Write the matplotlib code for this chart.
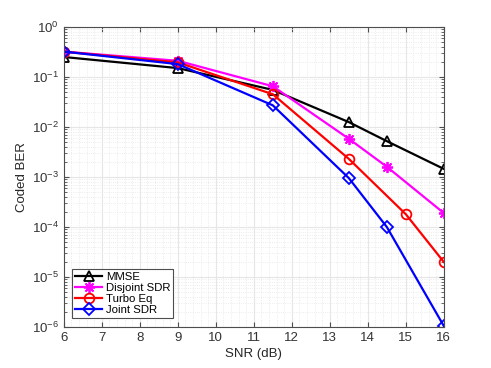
import matplotlib
matplotlib.use('Agg')
import matplotlib.pyplot as plt
import numpy as np

plt.rcParams['font.family'] = ['Liberation Sans', 'DejaVu Sans']

# SNR points and coded BER per scheme
snr_mmse = [6, 9, 11.5, 13.5, 14.5, 16]
ber_mmse = [0.25, 0.15, 0.055, 0.0125, 0.0052, 0.00145]

snr_dsdr = [6, 9, 11.5, 13.5, 14.5, 16]
ber_dsdr = [0.32, 0.21, 0.065, 0.0058, 0.0016, 0.00019]

snr_turbo = [6, 9, 11.5, 13.5, 15, 16]
ber_turbo = [0.32, 0.195, 0.045, 0.0023, 0.00018, 0.00002]

snr_jsdr = [6, 9, 11.5, 13.5, 14.5, 16]
ber_jsdr = [0.32, 0.18, 0.027, 0.00095, 0.0001, 1.05e-6]

fig = plt.figure(figsize=(4.91, 3.68), dpi=100)
ax = fig.add_axes([0.13, 0.111, 0.774, 0.816])

ax.semilogy(snr_mmse, ber_mmse, color='k', marker='^', mfc='none', ms=7, mew=1.3, lw=1.6, label='MMSE')
ax.semilogy(snr_dsdr, ber_dsdr, color='#ff00ff', marker=(8, 2, 0), ms=8, mew=1.3, lw=1.6, label='Disjoint SDR')
ax.semilogy(snr_turbo, ber_turbo, color='#ff0000', marker='o', mfc='none', ms=7, mew=1.3, lw=1.6, label='Turbo Eq')
ax.semilogy(snr_jsdr, ber_jsdr, color='#0000ff', marker='D', mfc='none', ms=6, mew=1.3, lw=1.6, label='Joint SDR')

ax.set_xlim(6, 16)
ax.set_ylim(1e-6, 1)
ax.set_xticks(np.arange(6, 17, 1))
ax.grid(True, which='major', color='#e6e6e6', lw=0.8)
ax.grid(True, which='minor', color='#e6e6e6', lw=0.6, ls=':')
ax.xaxis.set_minor_locator(matplotlib.ticker.AutoMinorLocator(5))
ax.set_axisbelow(True)

for s in ax.spines.values():
    s.set_color('#4d4d4d')
ax.tick_params(which='both', direction='in', colors='#4d4d4d', labelcolor='#333333', labelsize=9.5, top=True, right=True)
ax.tick_params(axis='x', which='minor', length=0)

ax.set_xlabel('SNR (dB)', fontsize=9.5, color='#262626', labelpad=3)
ax.set_ylabel('Coded BER', fontsize=9.5, color='#262626', labelpad=3)

leg = ax.legend(loc='lower left', fontsize=8.2, fancybox=False, framealpha=1, edgecolor='#4d4d4d',
                handlelength=2.4, borderpad=0.25, labelspacing=0.1, handletextpad=0.3,
                borderaxespad=0, bbox_to_anchor=(0.022, 0.03))
leg.get_frame().set_linewidth(0.8)

fig.savefig('out.png', dpi=100)
